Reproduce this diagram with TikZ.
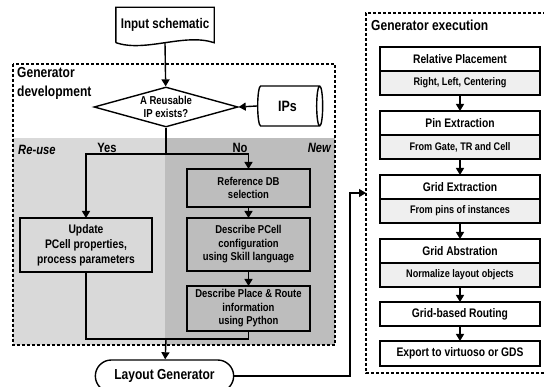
\documentclass[tikz,border=0pt]{standalone}
\usepackage{fontspec}
\setmainfont{Liberation Sans}[FakeStretch=0.83]
\usetikzlibrary{shapes.geometric, shapes.misc, arrows.meta, positioning}

\definecolor{reusegray}{HTML}{D9D9D9}
\definecolor{newgray}{HTML}{BDBDBD}
\definecolor{subgray}{HTML}{EFEFEF}

\begin{document}
\begin{tikzpicture}[
    x=1pt, y=-1pt,
    node distance=16pt,
    box/.style={draw, rectangle, align=center, line width=1.4pt, outer sep=0pt, font=\bfseries\fontsize{12.4}{15}\selectfont},
    newbox/.style={box, fill=newgray, minimum width=123pt, font=\bfseries\fontsize{11.4}{13.5}\selectfont},
    head/.style={box, fill=white, minimum width=160pt, minimum height=24pt},
    sub/.style={box, fill=subgray, minimum width=160pt, minimum height=24pt, font=\bfseries\fontsize{11}{13}\selectfont},
    label/.style={inner sep=0pt, align=left, font=\bfseries\fontsize{13.5}{15}\selectfont},
    title/.style={inner sep=0pt, align=left, font=\bfseries\fontsize{14.5}{19}\selectfont},
    frame/.style={dash pattern=on 3pt off 2pt, line width=1.2pt},
    line/.style={line width=1.4pt},
    arrow/.style={-{Triangle[length=7pt, width=8pt]}, line width=1.4pt}
]

\useasboundingbox (0,0) rectangle (544,387);

% Regions
\fill[reusegray] (13,138) rectangle (165,345);
\fill[newgray] (165,138) rectangle (335,345);
\draw[frame] (13,64) rectangle (335,345);
\draw[frame] (546,13) -- (366,13) -- (366,373) -- (546,373);

\node (devtitle) [title, anchor=north west] at (17,67) {Generator\\development};
\node (exectitle) [title, anchor=west] at (371,25) {Generator execution};
\node (reuselbl) [label, anchor=west, font=\bfseries\itshape\fontsize{13.5}{15}\selectfont] at (18,150) {Re-use};
\node (newlbl) [label, anchor=east, font=\bfseries\itshape\fontsize{13.5}{15}\selectfont] at (331,148) {New};

% Left flow
\node (input) [inner sep=0pt, minimum width=98pt, minimum height=35pt, font=\bfseries\fontsize{14}{16}\selectfont] at (165,25) {Input schematic};
\draw[line] (input.south west) -- (input.north west) -- (input.north east) -- (input.south east)
    .. controls +(-30,-10) and +(30,10) .. (input.south west);
\node (reuse) [diamond, draw, line width=1.4pt, aspect=3.6, minimum width=144pt, minimum height=40pt, inner sep=0pt, fill=white, align=center, font=\bfseries\fontsize{11.5}{13.5}\selectfont] at (166,107) {A Reusable\\IP exists?};
\node (ips) [cylinder, draw, line width=1.4pt, aspect=0.35, minimum width=40pt, minimum height=65pt, fill=white, font=\bfseries\fontsize{15}{17}\selectfont] at (287.5,106) {IPs};

\node (yes) [label] at (107,148) {Yes};
\node (no) [label] at (240,148) {No};

\node (update) [box, minimum width=132pt, minimum height=54pt] at (86,245) {Update\\PCell properties,\\process parameters};
\node (refdb) [newbox, minimum height=38pt] at (248.5,188) {Reference DB\\selection};
\node (pcell) [newbox, minimum height=53pt] at (248.5,244.5) {Describe PCell\\configuration\\using Skill language};
\node (pr) [newbox, minimum height=45pt] at (248.5,308.5) {Describe Place \& Route\\information\\using Python};

\node (layout) [rounded rectangle, draw, line width=1.4pt, fill=white, minimum width=145pt, minimum height=32pt, font=\bfseries\fontsize{14.5}{16}\selectfont] at (164.5,376) {Layout Generator};

\coordinate (split) at (166,154);
\coordinate (merge) at (166,339);
\coordinate (turn) at (350,193);
\coordinate (execin) at (366,193);

% Right flow
\node (relpl) [head] at (460,59) {Relative Placement};
\node (relplsub) [sub, below=0pt of relpl] {Right, Left, Centering};
\node (pin) [head, below=of relplsub] {Pin Extraction};
\node (pinsub) [sub, below=0pt of pin] {From Gate, TR and Cell};
\node (gridex) [head, below=of pinsub] {Grid Extraction};
\node (gridexsub) [sub, below=0pt of gridex] {From pins of instances};
\node (gridab) [head, below=of gridexsub] {Grid Abstration};
\node (gridabsub) [sub, below=0pt of gridab] {Normalize layout objects};
\node (route) [head, below=15pt of gridabsub] {Grid-based Routing};
\node (export) [head, below=15pt of route, minimum height=25pt] {Export to virtuoso or GDS};

% Arrows
\draw[arrow] (input.south) -- (reuse);
\draw[arrow] (ips.west) -- (reuse.east);
\draw[line] (reuse) -- (split);
\draw[arrow] (split) -| (update);
\draw[arrow] (split) -| (refdb);
\draw[arrow] (refdb) -- (pcell);
\draw[arrow] (pcell) -- (pr);
\draw[line] (update) |- (merge);
\draw[line] (pr) |- (merge);
\draw[arrow] (merge) -- (layout);
\draw[arrow] (layout) -| (turn) -- (execin);

\draw[arrow] (relplsub) -- (pin);
\draw[arrow] (pinsub) -- (gridex);
\draw[arrow] (gridexsub) -- (gridab);
\draw[arrow] (gridabsub) -- (route);
\draw[arrow] (route) -- (export);

\end{tikzpicture}
\end{document}
